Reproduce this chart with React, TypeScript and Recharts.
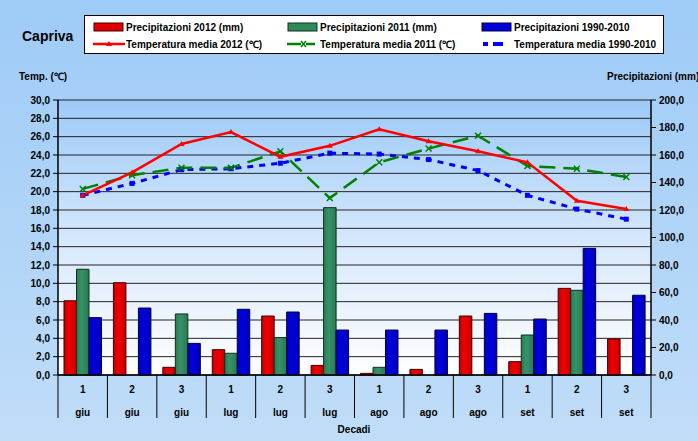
import React from 'react';
import { ComposedChart, Bar, Line, XAxis, YAxis, CartesianGrid } from 'recharts';

const decadi = ['1', '2', '3', '1', '2', '3', '1', '2', '3', '1', '2', '3'];
const mesi = ['giu', 'giu', 'giu', 'lug', 'lug', 'lug', 'ago', 'ago', 'ago', 'set', 'set', 'set'];
const precip2012 = [54.0, 67.1, 5.6, 18.4, 42.9, 7.0, 1.2, 4.1, 42.9, 9.7, 63.0, 26.2];
const precip2011 = [76.9, 0, 44.4, 15.8, 27.2, 121.7, 5.6, 0, 0, 29.1, 61.6, 0];
const precipNorm = [41.7, 48.7, 23.0, 47.8, 45.8, 32.7, 32.7, 32.7, 44.8, 40.7, 92.1, 58.0];
const temp2012 = [19.6, 22.1, 25.2, 26.5, 23.8, 25.0, 26.8, 25.5, 24.4, 23.2, 19.0, 18.1];
const temp2011 = [20.3, 21.8, 22.6, 22.6, 24.4, 19.3, 23.2, 24.7, 26.1, 22.8, 22.5, 21.6];
const tempNorm = [19.6, 20.9, 22.4, 22.5, 23.1, 24.2, 24.1, 23.5, 22.3, 19.6, 18.1, 17.0];
const tempTicks = [0, 2, 4, 6, 8, 10, 12, 14, 16, 18, 20, 22, 24, 26, 28, 30];
const precipTicks = [0, 20, 40, 60, 80, 100, 120, 140, 160, 180, 200];

const data = decadi.map((d, i) => ({
  cat: d + '|' + mesi[i],
  p2012: precip2012[i],
  p2011: precip2011[i],
  pNorm: precipNorm[i],
  t2012: temp2012[i],
  t2011: temp2011[i],
  tNorm: tempNorm[i],
}));

const W = 698;
const H = 441;
const PLOT_L = 58;
const PLOT_R = 651;
const PLOT_T = 100;
const PLOT_B = 375;
const BAND = (PLOT_R - PLOT_L) / 12;
const FONT = '"Liberation Sans", Arial, sans-serif';

const fmt = (v: number) => v.toFixed(1).replace('.', ',');

const XTick = (props: any) => {
  const { x, payload, index } = props;
  const [num, mon] = String(payload.value).split('|');
  const left = x - BAND / 2;
  return (
    <g>
      <line x1={left} x2={left} y1={PLOT_B} y2={418} stroke="#000" strokeWidth={1} />
      {index === 11 && <line x1={x + BAND / 2} x2={x + BAND / 2} y1={PLOT_B} y2={418} stroke="#000" strokeWidth={1} />}
      <text x={x} y={393} textAnchor="middle" fontSize={10} fontWeight="bold" fontFamily={FONT} fill="#000">{num}</text>
      <text x={x} y={416} textAnchor="middle" fontSize={10} fontWeight="bold" fontFamily={FONT} fill="#000">{mon}</text>
    </g>
  );
};

const TriDot = (props: any) => {
  const { cx, cy } = props;
  if (cx == null || cy == null) return null;
  return <path d={`M${cx - 3},${cy + 2} L${cx + 3},${cy + 2} L${cx},${cy - 3} Z`} fill="#FF0000" />;
};
const XDot = (props: any) => {
  const { cx, cy } = props;
  if (cx == null || cy == null) return null;
  return (
    <g stroke="#008000" strokeWidth={1.5}>
      <line x1={cx - 3} y1={cy - 3} x2={cx + 3} y2={cy + 3} />
      <line x1={cx - 3} y1={cy + 3} x2={cx + 3} y2={cy - 3} />
    </g>
  );
};
const SqDot = (props: any) => {
  const { cx, cy } = props;
  if (cx == null || cy == null) return null;
  return <rect x={cx - 2.5} y={cy - 2.5} width={5} height={5} fill="#0000FF" />;
};

const txt: React.CSSProperties = {
  position: 'absolute',
  fontFamily: FONT,
  fontWeight: 'bold',
  fontSize: 10,
  color: '#000',
  whiteSpace: 'nowrap',
  lineHeight: '12px',
};

const LegendItem = ({ left, top, swatch, label }: any) => (
  <div style={{ position: 'absolute', left, top, height: 12, display: 'flex', alignItems: 'center' }}>
    <svg width={32} height={12} style={{ display: 'block' }}>{swatch}</svg>
    <span style={{ fontFamily: FONT, fontWeight: 'bold', fontSize: 10, whiteSpace: 'nowrap', marginLeft: 1 }}>{label}</span>
  </div>
);

const tickStyle = { fontSize: 10, fontWeight: 'bold', fill: '#000', fontFamily: FONT };

export default function App() {
  return (
    <div
      style={{
        position: 'absolute',
        left: 0,
        top: 0,
        width: W,
        height: H,
        background: 'linear-gradient(#9ECBF7, #C0DDF8)',
        overflow: 'hidden',
      }}
    >
      <ComposedChart
        width={W}
        height={H}
        data={data}
        margin={{ top: PLOT_T, right: 0, bottom: 6, left: 0 }}
        barGap={0}
        barSize={12.5}
      >
        <defs>
          <linearGradient id="plotBg" x1="0" y1="0" x2="0" y2="1">
            <stop offset="0%" stopColor="#9CCAF8" />
            <stop offset="55%" stopColor="#DAEAFC" />
            <stop offset="100%" stopColor="#FFFFFF" />
          </linearGradient>
          <linearGradient id="redBar" x1="0" y1="0" x2="1" y2="0">
            <stop offset="0%" stopColor="#C00000" />
            <stop offset="40%" stopColor="#F00000" />
            <stop offset="100%" stopColor="#C80000" />
          </linearGradient>
          <linearGradient id="greenBar" x1="0" y1="0" x2="1" y2="0">
            <stop offset="0%" stopColor="#2A7A50" />
            <stop offset="40%" stopColor="#36936A" />
            <stop offset="100%" stopColor="#2A7A50" />
          </linearGradient>
          <linearGradient id="blueBar" x1="0" y1="0" x2="1" y2="0">
            <stop offset="0%" stopColor="#0000B8" />
            <stop offset="40%" stopColor="#0000E0" />
            <stop offset="100%" stopColor="#0000B8" />
          </linearGradient>
        </defs>
        <CartesianGrid
          yAxisId="left"
          vertical={false}
          stroke="#222"
          strokeWidth={1}
          fill="url(#plotBg)"
          fillOpacity={1}
        />
        <XAxis
          dataKey="cat"
          interval={0}
          height={60}
          tickLine={false}
          tickSize={0}
          tickMargin={0}
          axisLine={{ stroke: '#000', strokeWidth: 1.5 }}
          tick={<XTick />}
        />
        <YAxis
          yAxisId="left"
          orientation="left"
          width={PLOT_L}
          domain={[0, 30]}
          ticks={tempTicks}
          interval={0}
          tickFormatter={fmt}
          tickSize={5}
          tickMargin={3}
          axisLine={{ stroke: '#000', strokeWidth: 1.5 }}
          tickLine={{ stroke: '#000' }}
          tick={tickStyle}
        />
        <YAxis
          yAxisId="right"
          orientation="right"
          width={W - PLOT_R}
          domain={[0, 200]}
          ticks={precipTicks}
          interval={0}
          tickFormatter={fmt}
          tickSize={5}
          tickMargin={3}
          axisLine={{ stroke: '#000', strokeWidth: 1.5 }}
          tickLine={{ stroke: '#000' }}
          tick={tickStyle}
        />
        <Bar yAxisId="right" dataKey="p2012" fill="url(#redBar)" stroke="#400000" strokeWidth={1} isAnimationActive={false} />
        <Bar yAxisId="right" dataKey="p2011" fill="url(#greenBar)" stroke="#10301F" strokeWidth={1} isAnimationActive={false} />
        <Bar yAxisId="right" dataKey="pNorm" fill="url(#blueBar)" stroke="#000040" strokeWidth={1} isAnimationActive={false} />
        <Line yAxisId="left" dataKey="tNorm" stroke="#0000FF" strokeWidth={3} strokeDasharray="6 6" dot={<SqDot />} activeDot={false} isAnimationActive={false} />
        <Line yAxisId="left" dataKey="t2011" stroke="#008000" strokeWidth={2.5} strokeDasharray="16 8" dot={<XDot />} activeDot={false} isAnimationActive={false} />
        <Line yAxisId="left" dataKey="t2012" stroke="#FF0000" strokeWidth={2.5} dot={<TriDot />} activeDot={false} isAnimationActive={false} />
      </ComposedChart>

      <div style={{ ...txt, fontSize: 14, left: 22, top: 28, lineHeight: '16px' }}>Capriva</div>

      <div
        style={{
          position: 'absolute',
          left: 84,
          top: 15,
          width: 578,
          height: 37,
          background: '#FFFFFF',
          border: '1px solid #000',
        }}
      >
        <LegendItem left={8} top={5} label="Precipitazioni 2012 (mm)"
          swatch={<rect x={1} y={2} width={29} height={8} fill="#E00000" stroke="#400000" />} />
        <LegendItem left={202} top={5} label="Precipitazioni 2011 (mm)"
          swatch={<rect x={1} y={2} width={29} height={8} fill="#2E8B5A" stroke="#10301F" />} />
        <LegendItem left={396} top={5} label="Precipitazioni 1990-2010"
          swatch={<rect x={1} y={2} width={29} height={8} fill="#0000D8" stroke="#000040" />} />
        <LegendItem left={8} top={22} label="Temperatura media 2012 (℃)"
          swatch={<g><line x1={0} x2={32} y1={6} y2={6} stroke="#FF0000" strokeWidth={2.5} /><path d="M13,8 L19,8 L16,3 Z" fill="#FF0000" /></g>} />
        <LegendItem left={202} top={22} label="Temperatura media 2011 (℃)"
          swatch={<g><line x1={0} x2={14} y1={6} y2={6} stroke="#008000" strokeWidth={2.5} /><line x1={19} x2={28} y1={6} y2={6} stroke="#008000" strokeWidth={2.5} /><line x1={14} y1={3} x2={19} y2={9} stroke="#008000" strokeWidth={1.5} /><line x1={14} y1={9} x2={19} y2={3} stroke="#008000" strokeWidth={1.5} /></g>} />
        <LegendItem left={396} top={22} label="Temperatura media 1990-2010"
          swatch={<g><rect x={2} y={4} width={5} height={4} fill="#0000FF" /><rect x={12} y={4} width={5} height={4} fill="#0000FF" /><rect x={17} y={4} width={5} height={4} fill="#0000FF" /></g>} />
      </div>

      <div style={{ ...txt, left: 19, top: 71 }}>Temp. (℃)</div>
      <div style={{ ...txt, left: 607, top: 71 }}>Precipitazioni (mm)</div>
      <div style={{ ...txt, left: 354, top: 424, transform: 'translateX(-50%)' }}>Decadi</div>
    </div>
  );
}
